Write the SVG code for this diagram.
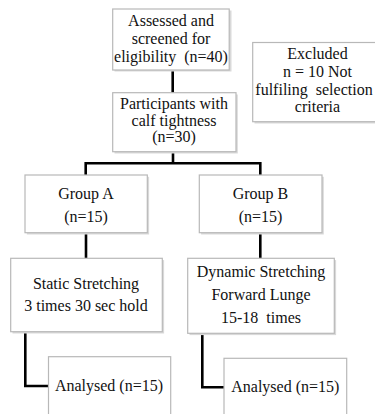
<svg xmlns="http://www.w3.org/2000/svg" width="375" height="414" viewBox="0 0 375 414">
<style>
.box{fill:#ffffff;stroke:#b8b8b8;stroke-width:1.2}
.sh{fill:#d9d9d9}
text{font-family:'Liberation Serif','Times New Roman',serif;font-size:16px;fill:#111111;text-anchor:middle}
.c{fill:none;stroke:#000000;stroke-width:2.6}
</style>
<rect width="375" height="414" fill="#ffffff"/>
<g id="connectors">
<path class="c" d="M172.7,70 V93"/>
<path class="c" d="M173,152 V163.3 M85.7,175 V163.3 H260.3 V175"/>
<path class="c" d="M86,233 V258.5"/>
<path class="c" d="M260.3,233 V258.5"/>
<path class="c" d="M25.3,332 V386 H48.5"/>
<path class="c" d="M202.3,333.5 V387.3 H224"/>
</g>
<g id="assessed">
<rect class="sh" x="114.5" y="10.5" width="117" height="61"/>
<rect class="box" x="112.7" y="9" width="116.5" height="61"/>
<text x="171" y="26">Assessed and</text>
<text x="171" y="44">screened for</text>
<text x="171" y="62" xml:space="preserve">eligibility  (n=40)</text>
</g>
<g id="excluded">
<rect class="sh" x="254.5" y="44" width="130" height="79.5"/>
<rect class="box" x="252.7" y="42.5" width="130" height="79.2"/>
<text x="317.5" y="59">Excluded</text>
<text x="317.5" y="77">n = 10 Not</text>
<text x="314" y="94.5" xml:space="preserve">fulfiling  selection</text>
<text x="317.5" y="112">criteria</text>
</g>
<g id="participants">
<rect class="sh" x="114.5" y="94.5" width="123.3" height="59"/>
<rect class="box" x="112.7" y="92.7" width="123.3" height="59"/>
<text x="174" y="108.5">Participants with</text>
<text x="174" y="125.5">calf tightness</text>
<text x="174" y="142">(n=30)</text>
</g>
<g id="groupA">
<rect class="sh" x="26.8" y="176.8" width="122.3" height="57.7"/>
<rect class="box" x="25" y="175" width="122.3" height="57.7"/>
<text x="86" y="198.5">Group A</text>
<text x="86" y="221.7">(n=15)</text>
</g>
<g id="groupB">
<rect class="sh" x="201.1" y="176.8" width="122.7" height="57.7"/>
<rect class="box" x="199.3" y="175" width="122.7" height="57.7"/>
<text x="260.5" y="198.5">Group B</text>
<text x="260.5" y="221.7">(n=15)</text>
</g>
<g id="static">
<rect class="sh" x="12.5" y="260.1" width="151.6" height="73.4"/>
<rect class="box" x="10.7" y="258.3" width="151.6" height="73.4"/>
<text x="86" y="288.5">Static Stretching</text>
<text x="86" y="310.7">3 times 30 sec hold</text>
</g>
<g id="dynamic">
<rect class="sh" x="189.5" y="260.1" width="146.6" height="75"/>
<rect class="box" x="187.7" y="258.3" width="146.6" height="75"/>
<text x="261" y="276.7">Dynamic Stretching</text>
<text x="261" y="300">Forward Lunge</text>
<text x="261" y="322.7" xml:space="preserve">15-18  times</text>
</g>
<g id="analysedA">
<rect class="box" x="48.5" y="356.7" width="122.2" height="70"/>
<text x="109" y="391">Analysed (n=15)</text>
</g>
<g id="analysedB">
<rect class="box" x="224" y="358.3" width="122.7" height="70"/>
<text x="285.3" y="392">Analysed (n=15)</text>
</g>
</svg>
